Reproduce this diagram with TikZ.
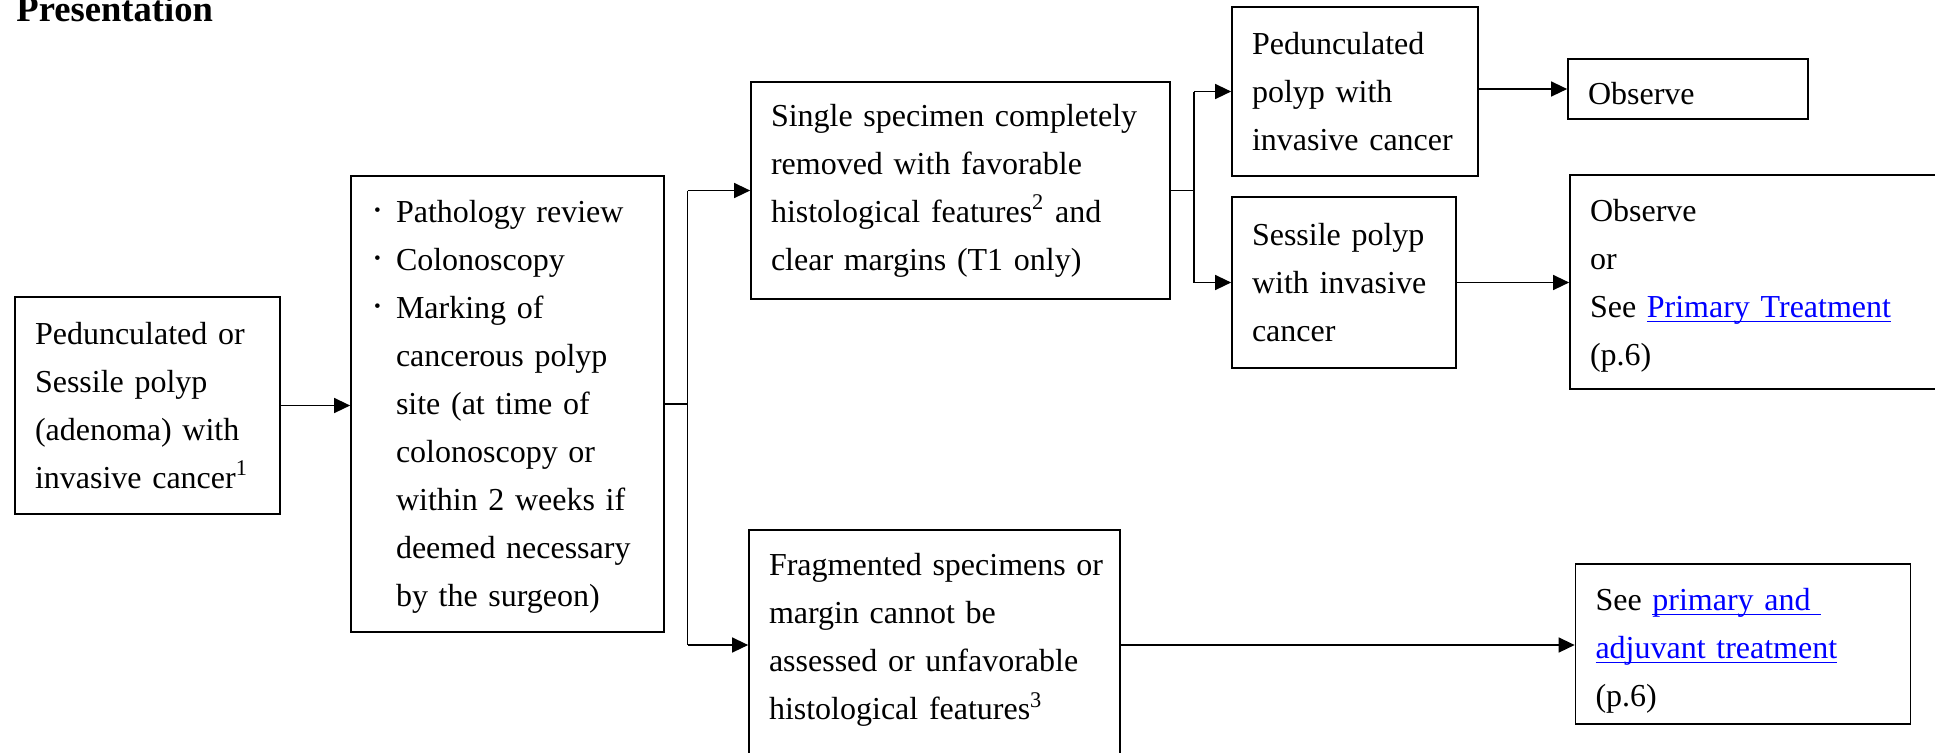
\documentclass[tikz,border=0pt]{standalone}
\usepackage{fontspec}
\setmainfont{Liberation Serif}
\usetikzlibrary{arrows.meta}
\definecolor{linkblue}{rgb}{0,0,1}
\newcommand{\lnk}[1]{\textcolor{linkblue}{\setbox0\hbox{#1}\rlap{\rule[-2.2pt]{\wd0}{0.65pt}}\box0}}
\newcommand{\bul}{\makebox[12.5pt][l]{\hspace{1.5pt}\raisebox{2.6pt}{\scalebox{0.6}{\textbullet}}}}
\newcommand{\ind}{\hspace*{12.5pt}}
\tikzset{
  box/.style={draw, line width=0.85pt, rectangle, inner xsep=10pt, inner ysep=0pt,
    align=left, font=\fontsize{16pt}{24pt}\selectfont},
  line/.style={line width=0.7pt},
  arr/.style={line width=0.7pt, -{Triangle[length=8pt,width=7.5pt]}}
}

\begin{document}
\begin{tikzpicture}[x=0.5pt,y=-0.5pt]
        \useasboundingbox (0,0) rectangle (1935,752);
        \clip (0,0) rectangle (1935,752);
        \node[anchor=base west, inner sep=0pt, font=\fontsize{18.3pt}{22pt}\selectfont\bfseries] (title) at (16,21.4) {Presentation};
        % First column
        \node[box, text width=112.5pt, minimum height=108.5pt] (A) at (147.5,405.5)
          {Pedunculated or\\ Sessile polyp\\ (adenoma) with\\ invasive cancer\textsuperscript{1}};
        \node[box, text width=136.5pt, minimum height=228pt, text height=13.5pt] (B) at (507.5,404)
          {\bul Pathology review\\ \bul Colonoscopy\\ \bul Marking of\\ \ind cancerous polyp\\
           \ind site (at time of\\ \ind colonoscopy or\\ \ind within 2 weeks if\\
           \ind deemed necessary\\ \ind by the surgeon)};
        % Second column
        \node[box, text width=189.5pt, minimum height=108.5pt] (C) at (960.5,190.5)
          {Single specimen completely\\ removed with favorable\\ histological features\textsuperscript{2} and\\ clear margins (T1 only)};
        \node[box, text width=165.5pt, minimum height=115pt, text height=6pt] (H) at (934.5,645)
          {\mbox{Fragmented specimens or}\\ margin cannot be\\ assessed or unfavorable\\ histological features\textsuperscript{3}};
        % Third column
        \node[box, text width=103pt, minimum height=84.5pt] (D) at (1355,91.5)
          {Pedunculated\\ polyp with\\ invasive cancer};
        \node[box, text width=92pt, minimum height=85.5pt] (E) at (1344,282.5)
          {Sessile polyp\\ with invasive\\ cancer};
        % Last column
        \node[box, text width=100pt, minimum height=30pt, text height=15pt, text depth=0pt] (F) at (1688,89) {Observe};
        \node[box, text width=167.5pt, minimum height=107pt, text height=15pt] (G) at (1757.5,282)
          {Observe\\ or\\ See \lnk{Primary Treatment}\\ (p.6)};
        \node[box, text width=147.5pt, minimum height=80pt, text height=18pt] (I) at (1743,644)
          {See \lnk{primary and\ }\\ \lnk{adjuvant treatment}\\ (p.6)};
        % Connectors
        \coordinate (j1) at (687.5,0);
        \coordinate (j2) at (1194,0);
        \draw[arr] (A.east) -- (A.east -| B.west);
        \draw[line] (B.east) -- (B.east -| j1);
        \draw[line] (j1 |- C.west) -- (j1 |- H.west);
        \draw[arr] (j1 |- C.west) -- (C.west);
        \draw[arr] (j1 |- H.west) -- (H.west);
        \draw[line] (C.east) -- (C.east -| j2);
        \draw[line] (j2 |- D.west) -- (j2 |- E.west);
        \draw[arr] (j2 |- D.west) -- (D.west);
        \draw[arr] (j2 |- E.west) -- (E.west);
        \draw[arr] (D.east |- F.west) -- (F.west);
        \draw[arr] (E.east) -- (E.east -| G.west);
        \draw[arr] (H.east) -- (H.east -| I.west);
\end{tikzpicture}
\end{document}
